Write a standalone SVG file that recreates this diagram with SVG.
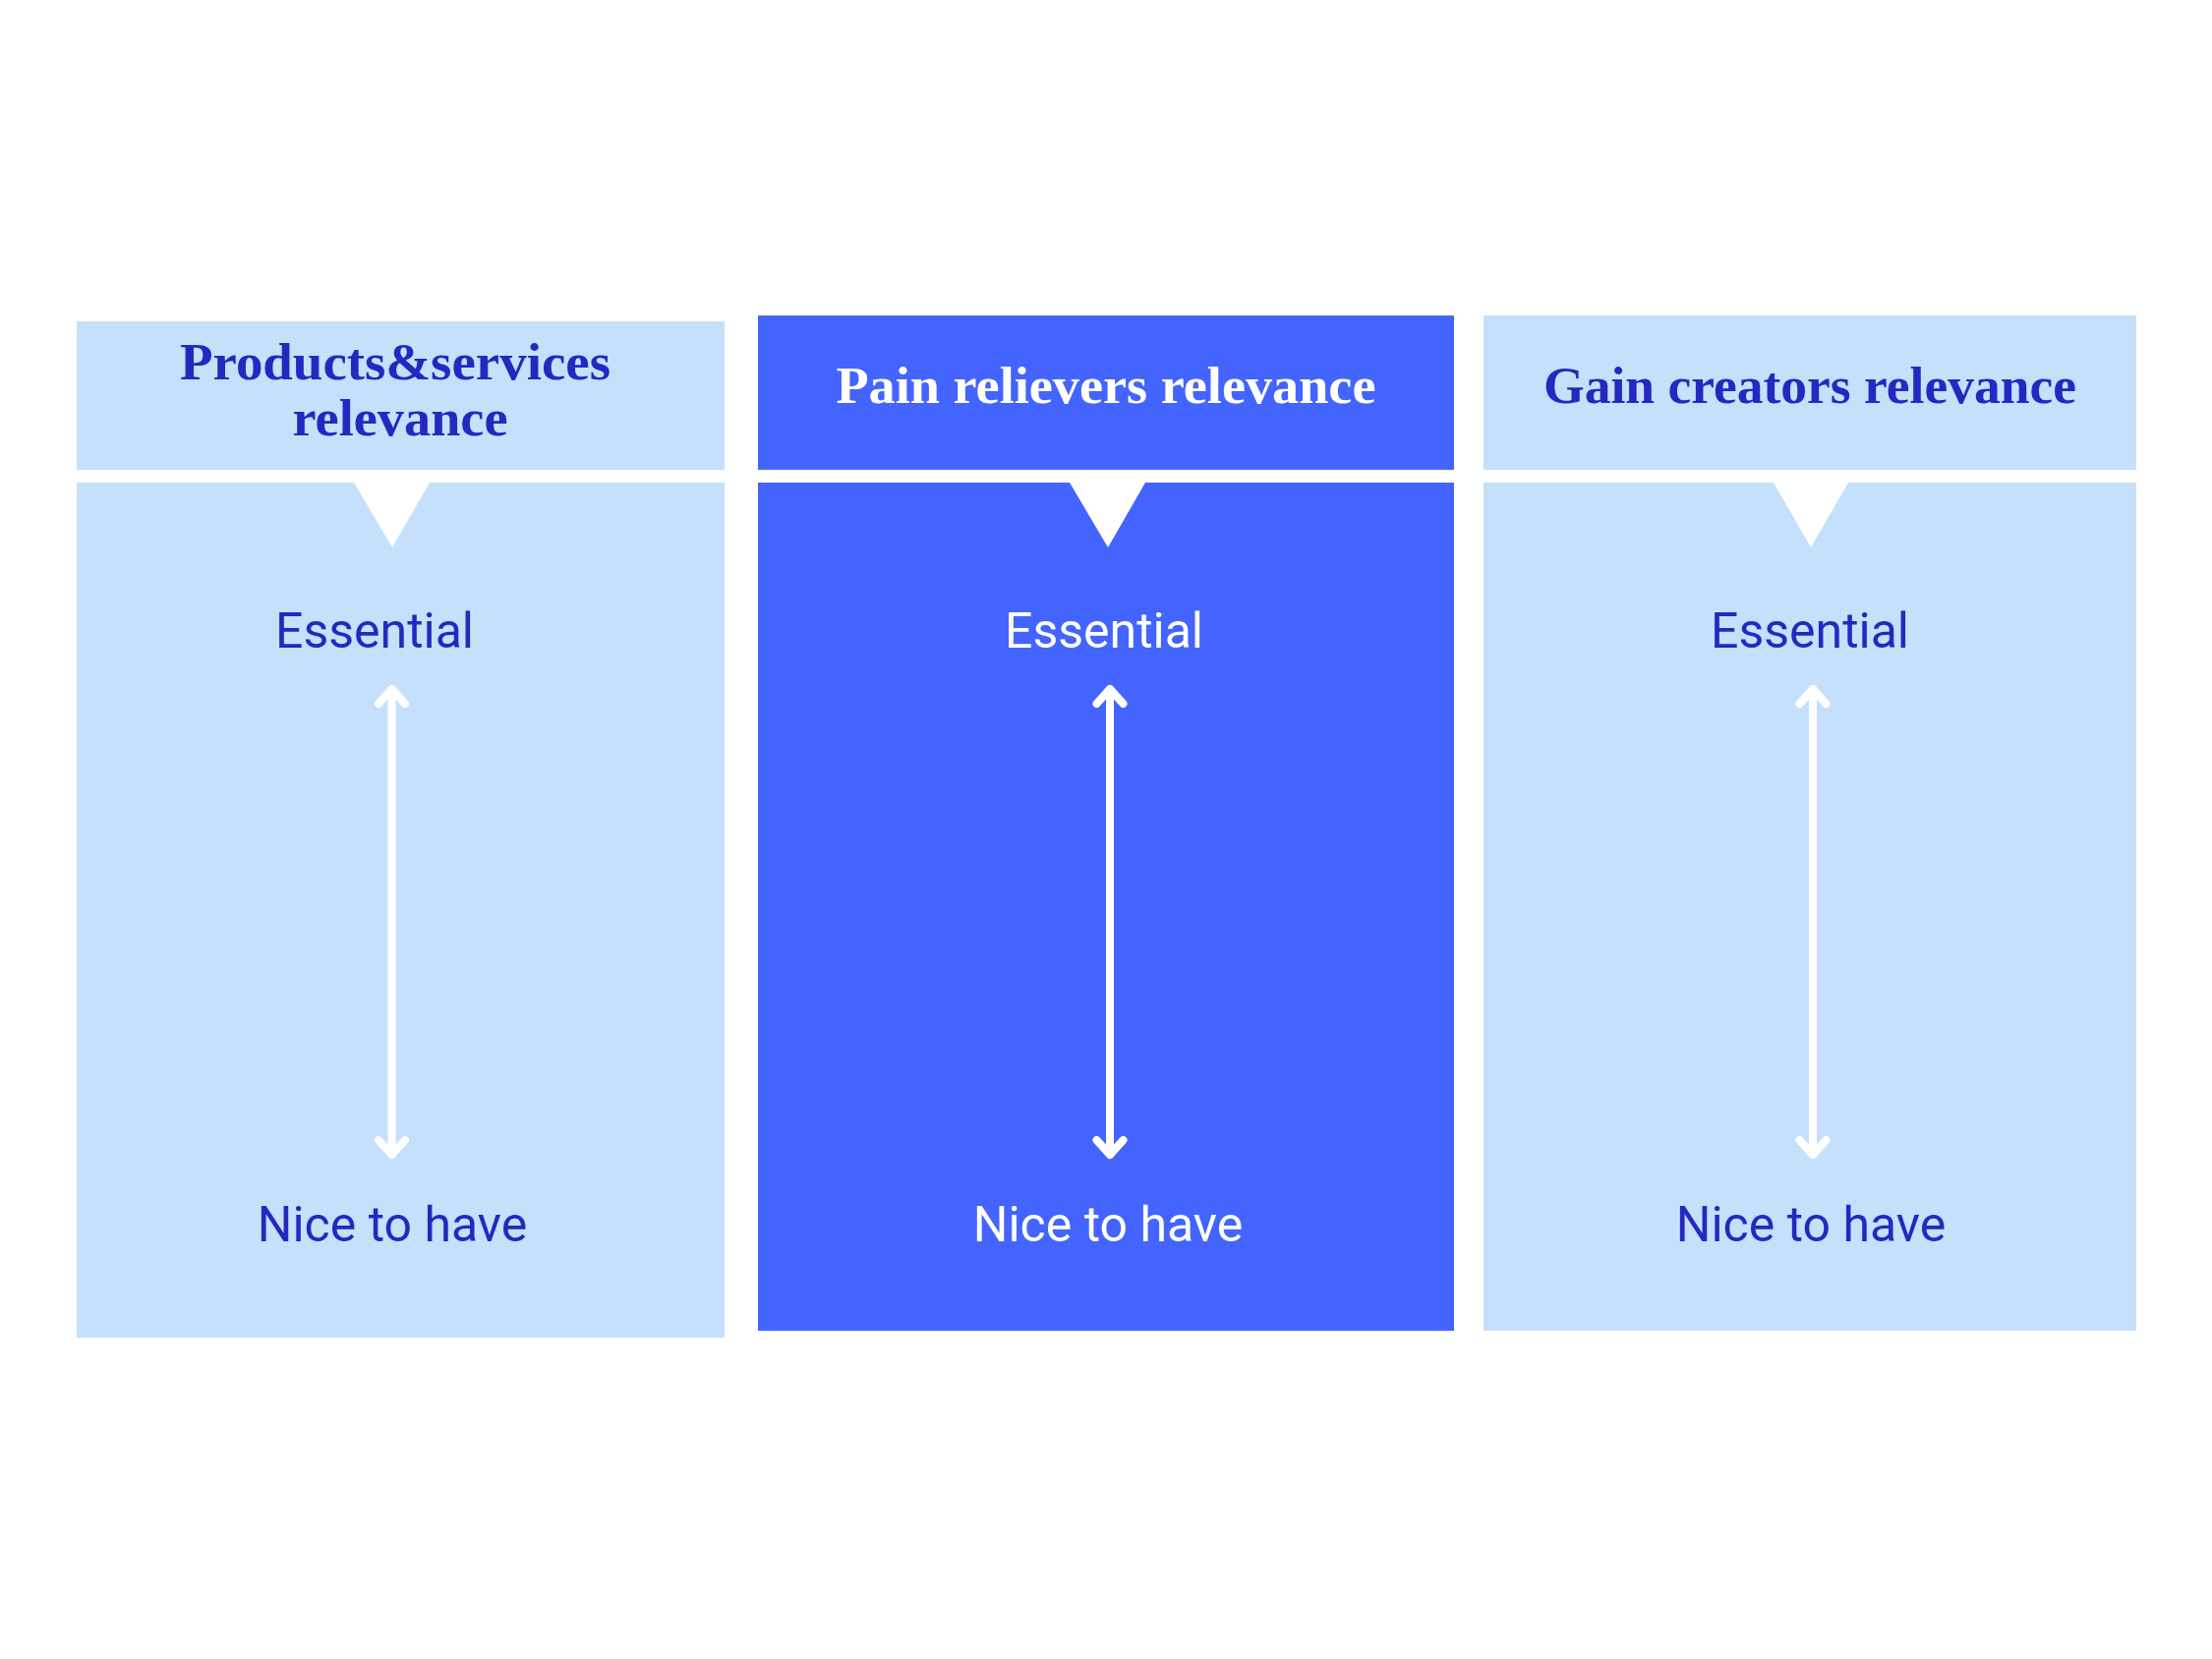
<svg xmlns="http://www.w3.org/2000/svg" width="2250" height="1688" viewBox="0 0 2250 1688">
  <style>
    .light { fill: #C5E0FA; }
    .dark { fill: #4364FF; }
    .notch { fill: #FFFFFF; }
    .head { font-family: "Liberation Serif", "DejaVu Serif", serif; font-weight: bold; font-size: 53px; text-anchor: middle; }
    .lbl { font-family: Roboto, "Liberation Sans", sans-serif; font-size: 50px; text-anchor: middle; }
    .ink { fill: #2329C0; }
    .white { fill: #FFFFFF; }
    .arrow { stroke: #FFFFFF; stroke-width: 8; fill: none; stroke-linecap: round; stroke-linejoin: round; }
  </style>
  <rect width="2250" height="1688" fill="#FFFFFF"/>

  <g id="panel-products">
    <rect class="light" x="78" y="327" width="659" height="151"/>
    <rect class="light" x="78" y="491" width="659" height="870"/>
    <polygon class="notch" points="360,491 437,491 399,557"/>
    <text class="head ink" x="402" y="386" textLength="438" lengthAdjust="spacingAndGlyphs">Products&amp;services</text>
    <text class="head ink" x="407" y="443" textLength="219" lengthAdjust="spacingAndGlyphs">relevance</text>
    <text class="lbl ink" x="381" y="659">Essential</text>
    <text class="lbl ink" x="399" y="1263">Nice to have</text>
  </g>

  <g id="panel-pain">
    <rect class="dark" x="771" y="321" width="708" height="157"/>
    <rect class="dark" x="771" y="491" width="708" height="863"/>
    <polygon class="notch" points="1088,491 1165,491 1127,557"/>
    <text class="head white" x="1125" y="410" textLength="549" lengthAdjust="spacingAndGlyphs">Pain relievers relevance</text>
    <text class="lbl white" x="1123" y="659">Essential</text>
    <text class="lbl white" x="1127" y="1263">Nice to have</text>
  </g>

  <g id="panel-gain">
    <rect class="light" x="1509" y="321" width="664" height="157"/>
    <rect class="light" x="1509" y="491" width="664" height="863"/>
    <polygon class="notch" points="1804,491 1880,491 1842,557"/>
    <text class="head ink" x="1841" y="410" textLength="542" lengthAdjust="spacingAndGlyphs">Gain creators relevance</text>
    <text class="lbl ink" x="1841" y="659">Essential</text>
    <text class="lbl ink" x="1842" y="1263">Nice to have</text>
  </g>

  <g id="connectors">
    <path class="arrow" d="M398.5,701 V1175 M385,716 L398.5,701 L412,716 M385,1160 L398.5,1175 L412,1160"/>
    <path class="arrow" d="M1129,701 V1175 M1115.5,716 L1129,701 L1142.5,716 M1115.5,1160 L1129,1175 L1142.5,1160"/>
    <path class="arrow" d="M1844,701 V1175 M1830.5,716 L1844,701 L1857.5,716 M1830.5,1160 L1844,1175 L1857.5,1160"/>
  </g>
</svg>
